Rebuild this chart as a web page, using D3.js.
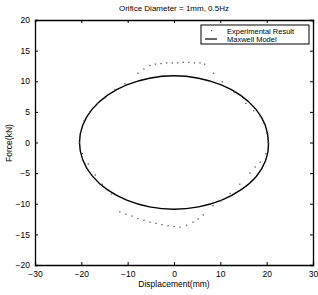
<!DOCTYPE html>
<html>
<head>
<meta charset="utf-8">
<script src="https://cdn.jsdelivr.net/npm/d3@7"></script>
<style>
  body { margin: 0; background: #fff; }
  svg text { font-family: "Liberation Sans", Arial, sans-serif; fill: #000; }
</style>
</head>
<body>
<svg id="chart" width="318" height="295"></svg>
<script>
// chart values
const titleText = "Orifice Diameter = 1mm, 0.5Hz"
const xLabel = "Displacement(mm)"
const yLabel = "Force(kN)"
const xTicks = [-30, -20, -10, 0, 10, 20, 30]
const yTicks = [-20, -15, -10, -5, 0, 5, 10, 15, 20]
const legendNames = ["Experimental Result", "Maxwell Model"]

// Maxwell model loop
const modelX = [0, 5.3, 10.2, 14.4, 17.7, 19.7, 20.4, 19.8, 17.8, 14.5, 10.3, 5.3, 0, -5.3, -10.2, -14.4, -17.7, -19.7, -20.4, -19.7, -17.7, -14.4, -10.2, -5.3]
const modelY = [10.9, 10.5, 9.4, 7.7, 5.4, 2.8, -0.2, -2.9, -5.5, -7.7, -9.4, -10.5, -10.9, -10.5, -9.4, -7.7, -5.4, -2.8, 0, 2.8, 5.4, 7.7, 9.4, 10.5]

// experimental points
const expX = [-7.8, -6.5, -5.2, -4, -2.8, -1.6, -0.4, 0.8, 2, 3.2, 4.4, 5.6, 6.6, 8.5, 10.4, 13, 15.5, 17.2, 18.6, 19.3, 20, 20.3, 19.8, 18.6, 17.5, 16.4, 14.2, 12.1, 10.2, 8.4, 6.3, 5.2, 4.1, 2.7, 1.3, 0, -1.3, -2.6, -3.9, -5.2, -6.5, -7.8, -9.1, -10.4, -11.7, -13.5, -15.5, -17, -18.5, -19.8, -20.4, -20.1, -19.4, -18.2, -16.6, -14.8, -12.8, -10.6]
const expY = [11.3, 12.0, 12.6, 12.8, 12.9, 13.0, 13.0, 13.0, 13.1, 13.1, 13.0, 13.0, 12.8, 11.3, 9.9, 8.2, 6.4, 5.2, 4.2, 3.2, 1.5, 0, -1.8, -3.2, -4, -5, -6.8, -8.3, -9.5, -10.3, -11.8, -12.5, -13, -13.5, -13.8, -13.7, -13.6, -13.4, -13.2, -13.0, -12.7, -12.4, -12.0, -11.7, -11.3, -8.4, -6.8, -5.3, -3.5, -1.8, 0, 1.8, 3.6, 5.0, 6.4, 7.3, 8.6, 9.6]

const svg = d3.select("#chart")

const x = d3.scaleLinear().domain([-30, 30]).range([35, 313])
const y = d3.scaleLinear().domain([-20, 20]).range([265, 20])

// box + inward ticks like matlab
svg.append("g")
    .attr("transform", "translate(0,265)")
    .call(d3.axisBottom(x).tickValues(xTicks).tickSize(-3).tickPadding(6))
svg.append("g")
    .attr("transform", "translate(0,20)")
    .call(d3.axisTop(x).tickValues(xTicks).tickSize(-3).tickFormat(""))
svg.append("g")
    .attr("transform", "translate(35,0)")
    .call(d3.axisLeft(y).tickValues(yTicks).tickSize(-3).tickPadding(5))
svg.append("g")
    .attr("transform", "translate(313,0)")
    .call(d3.axisRight(y).tickValues(yTicks).tickSize(-3).tickFormat(""))

svg.selectAll(".domain").attr("stroke", "#000").attr("stroke-width", 1.3)
svg.selectAll(".tick line").attr("stroke", "#000")
svg.selectAll(".tick text").attr("font-size", 8.5).attr("font-family", "Liberation Sans, Arial, sans-serif").attr("fill", "#000")

// model line
const modelPts = modelX.map((d, i) => [d, modelY[i]])
const line = d3.line()
    .x(d => x(d[0]))
    .y(d => y(d[1]))
    .curve(d3.curveCardinalClosed)

svg.append("path")
    .datum(modelPts)
    .attr("d", line)
    .attr("fill", "none")
    .attr("stroke", "#000")
    .attr("stroke-width", 1.4)

// experimental dots
svg.selectAll(".dot")
    .data(expX.map((d, i) => [d, expY[i]]))
    .enter().append("rect")
    .attr("class", "dot")
    .attr("x", d => x(d[0]) - 0.6)
    .attr("y", d => y(d[1]) - 0.6)
    .attr("width", 1.3)
    .attr("height", 1.3)
    .attr("fill", "#555")

// labels
svg.append("text").attr("x", 174).attr("y", 11).attr("text-anchor", "middle")
    .attr("font-size", 8).text(titleText)
svg.append("text").attr("x", 174).attr("y", 287).attr("text-anchor", "middle")
    .attr("font-size", 8.5).text(xLabel)
svg.append("text").attr("transform", "translate(12,143) rotate(-90)")
    .attr("text-anchor", "middle").attr("font-size", 8.5).text(yLabel)

// legend
const lg = svg.append("g").attr("transform", "translate(201,25)")
lg.append("rect").attr("width", 108).attr("height", 19)
    .attr("fill", "#fff").attr("stroke", "#000").attr("stroke-width", 1)
lg.append("rect").attr("x", 10).attr("y", 5).attr("width", 1.2).attr("height", 1.2).attr("fill", "#555")
lg.append("line").attr("x1", 4).attr("x2", 16).attr("y1", 14).attr("y2", 14)
    .attr("stroke", "#000").attr("stroke-width", 1.2)
legendNames.forEach((n, i) => {
    lg.append("text").attr("x", 26).attr("y", 8.5 + i * 8).attr("font-size", 7.5).text(n)
})
</script>
</body>
</html>
